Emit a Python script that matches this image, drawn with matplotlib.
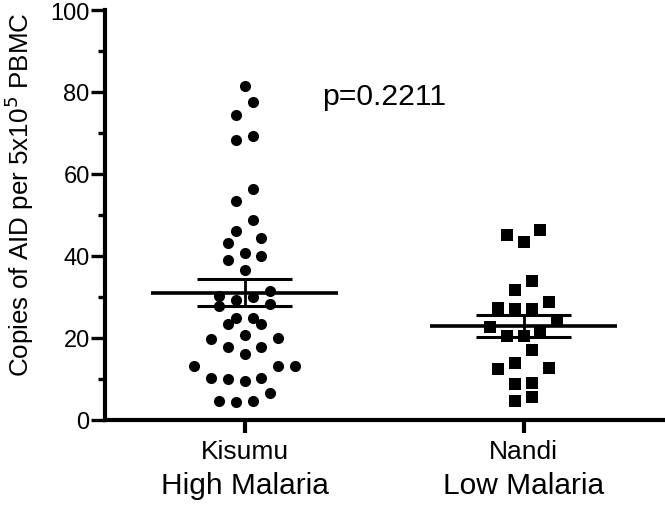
import numpy as np
import matplotlib
matplotlib.use("Agg")
import matplotlib.pyplot as plt

plt.rcParams['font.family'] = ['Liberation Sans', 'DejaVu Sans']

cat_top = ["Kisumu", "Nandi"]
cat_bottom = ["High Malaria", "Low Malaria"]

kisumu = [81.5, 77.6, 74.4, 68.4, 69.2, 56.3, 53.3, 48.7,
          46.0, 44.3, 43.2, 39.9, 39.1, 40.7, 36.5,
          31.5, 30.0, 28.4, 29.3, 30.3, 27.7,
          24.8, 25.0, 23.3, 23.5,
          19.9, 20.7, 19.8, 17.8, 17.8, 16.0,
          13.2, 13.2, 13.2,
          10.3, 10.0, 9.5, 10.3,
          4.7, 4.5, 4.7, 6.6]
nandi = [46.4, 43.3, 45.1, 33.9, 31.8, 28.7, 27.4, 27.1, 27.1,
         24.2, 22.6, 21.5, 20.6, 20.4, 17.1, 13.9, 12.4, 12.8,
         8.8, 9.0, 4.7, 5.7]
groups = [kisumu, nandi]
markers = ['o', 's']
p_text = "p=0.2211"

W, H, DPI = 665, 506, 100
fig = plt.figure(figsize=(W / DPI, H / DPI), dpi=DPI)
left_px, right_px, bottom_px, top_px = 105, 663, 421, 11
ax = fig.add_axes([left_px / W, 1 - bottom_px / H,
                   (right_px - left_px) / W, (bottom_px - top_px) / H])
ax.set_xlim(-0.5, 1.5)
ax.set_ylim(0, 100)

px_per_x = (right_px - left_px) / 2.0
px_per_y = (bottom_px - top_px) / 100.0
step_px = 16.7                      # horizontal spacing of dots in a row
bin_h = step_px / px_per_y          # vertical extent of one row (data units)


def scatter_offsets(values):
    """Prism-like scatter: group sorted values into rows, spread each row
    horizontally around the centre (centre-out)."""
    vals = np.asarray(values, float)
    order = np.argsort(vals, kind='stable')
    offs = np.zeros(len(vals))
    i = 0
    while i < len(order):
        start = vals[order[i]]
        j = i
        while j < len(order) and vals[order[j]] < start + bin_h:
            j += 1
        idx = order[i:j]
        n = len(idx)
        if n % 2:
            slots = [0.0]
            for k in range(1, n):
                slots.append(-((k + 1) // 2) if k % 2 else (k // 2))
        else:
            slots = []
            for k in range(n):
                m = k // 2 + 0.5
                slots.append(-m if k % 2 == 0 else m)
        for s, ii in zip(slots, idx):
            offs[ii] = s * step_px / px_per_x
        i = j
    return offs


msize = 8.0
for k, (vals, mk) in enumerate(zip(groups, markers)):
    offs = scatter_offsets(vals)
    ax.plot(k + offs, vals, linestyle='none', marker=mk, markersize=msize,
            markerfacecolor='black', markeredgecolor='black', markeredgewidth=0,
            zorder=3)
    v = np.asarray(vals)
    m = v.mean()
    sem = v.std(ddof=1) / np.sqrt(len(v))
    ax.hlines(m, k - 0.335, k + 0.335, color='black', linewidth=2.6, zorder=4)
    ax.hlines([m - sem, m + sem], k - 0.172, k + 0.172, color='black',
              linewidth=2.2, zorder=4)
    ax.vlines(k, m - sem, m + sem, color='black', linewidth=2.0, zorder=4)

for s in ['top', 'right']:
    ax.spines[s].set_visible(False)
for s in ['left', 'bottom']:
    ax.spines[s].set_linewidth(3.0)
    ax.spines[s].set_capstyle('projecting')

ax.set_yticks([0, 20, 40, 60, 80, 100])
ax.set_yticks([10, 30, 50, 70, 90], minor=True)
ax.tick_params(axis='y', which='major', length=10, width=2.4, labelsize=17, pad=1)
ax.tick_params(axis='y', which='minor', length=5, width=2.4)
ax.set_xticks([0, 1])
ax.set_xticklabels(cat_top)
ax.tick_params(axis='x', which='major', length=9, width=3.0, labelsize=19, pad=5)

for k, lab in enumerate(cat_bottom):
    ax.text(k, -0.159, lab, transform=ax.get_xaxis_transform(),
            ha='center', va='center', fontsize=21.5)

ax.set_ylabel("Copies of AID per 5x10$^{5}$ PBMC", fontsize=18.7)
ax.yaxis.set_label_coords(-0.124, 0.552)

ax.text(0.279, 77.1, p_text, fontsize=21.7, ha='left', va='baseline')

fig.savefig("out.png", dpi=DPI)
